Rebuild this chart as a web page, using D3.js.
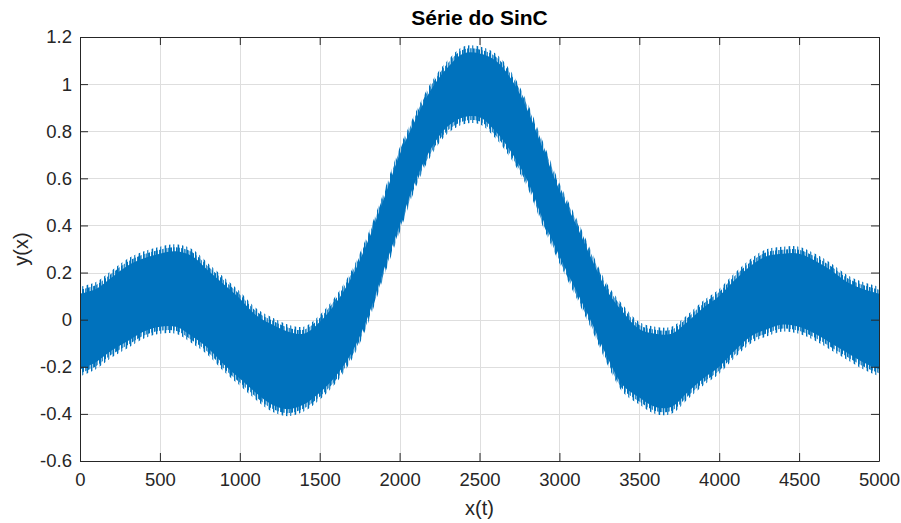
<!DOCTYPE html>
<html>
<head>
<meta charset="utf-8">
<script src="https://cdn.jsdelivr.net/npm/d3@7"></script>
<style>
  html, body { margin: 0; padding: 0; background: #ffffff; }
  svg { display: block; font-family: "Liberation Sans", Arial, Helvetica, sans-serif; }
</style>
</head>
<body>
<svg id="chart" width="901" height="523"></svg>
<script>
// Sample positions along x(t)
const sampleT = [
  0, 100, 200, 300, 400, 500, 600, 700, 800, 900,
  1000, 1100, 1200, 1300, 1400, 1500, 1600, 1700, 1800, 1900,
  2000, 2100, 2200, 2300, 2400, 2500, 2600, 2700, 2800, 2900,
  3000, 3100, 3200, 3300, 3400, 3500, 3600, 3700, 3800, 3900,
  4000, 4100, 4200, 4300, 4400, 4500, 4600, 4700, 4800, 4900, 5000
];

// Upper extent (spike tips) of the noisy SinC signal at each sample position
const upperY = [
  0.14, 0.16, 0.21, 0.26, 0.29, 0.31, 0.32, 0.30, 0.24, 0.18,
  0.12, 0.05, 0.01, -0.02, -0.03, 0.02, 0.10, 0.21, 0.36, 0.54,
  0.73, 0.88, 1.01, 1.10, 1.16, 1.16, 1.13, 1.05, 0.92, 0.75,
  0.58, 0.44, 0.29, 0.15, 0.06, -0.01, -0.03, -0.03, 0.02, 0.08,
  0.13, 0.20, 0.26, 0.30, 0.31, 0.31, 0.28, 0.24, 0.19, 0.16, 0.14
];

// Lower extent (spike tips) of the noisy SinC signal at each sample position
const lowerY = [
  -0.24, -0.21, -0.16, -0.12, -0.08, -0.06, -0.06, -0.10, -0.15, -0.22,
  -0.28, -0.34, -0.39, -0.41, -0.39, -0.34, -0.27, -0.17, -0.02, 0.18,
  0.37, 0.56, 0.70, 0.79, 0.83, 0.83, 0.77, 0.68, 0.56, 0.39,
  0.24, 0.10, -0.04, -0.19, -0.31, -0.36, -0.40, -0.40, -0.34, -0.28,
  -0.23, -0.16, -0.10, -0.07, -0.05, -0.06, -0.09, -0.13, -0.17, -0.21, -0.24
];

// Axis ticks and their labels
const xTicks = [0, 500, 1000, 1500, 2000, 2500, 3000, 3500, 4000, 4500, 5000];
const xTickLabels = ["0", "500", "1000", "1500", "2000", "2500", "3000", "3500", "4000", "4500", "5000"];
const yTicks = [-0.6, -0.4, -0.2, 0, 0.2, 0.4, 0.6, 0.8, 1, 1.2];
const yTickLabels = ["-0.6", "-0.4", "-0.2", "0", "0.2", "0.4", "0.6", "0.8", "1", "1.2"];

const titleText = "Série do SinC";
const xLabelText = "x(t)";
const yLabelText = "y(x)";

(function draw() {
  const rows = sampleT.map((t, i) => ({ t, hi: upperY[i], lo: lowerY[i] }));

  const svg = d3.select("#chart");
  const plotLeft = 80, plotRight = 879, plotTop = 37, plotBottom = 461;
  const textColor = "#262626";
  const lineColor = "#0072BD";

  const x = d3.scaleLinear().domain([0, 5000]).range([plotLeft, plotRight]);
  const y = d3.scaleLinear().domain([-0.6, 1.2]).range([plotBottom, plotTop]);

  // Texture used to render the dense oscillation as thin vertical strokes
  const defs = svg.append("defs");
  function stripePattern(id, width, strokes) {
    const p = defs.append("pattern")
      .attr("id", id)
      .attr("patternUnits", "userSpaceOnUse")
      .attr("width", width).attr("height", 20);
    strokes.forEach(([sx, sw]) => {
      p.append("rect").attr("x", sx).attr("y", 0)
        .attr("width", sw).attr("height", 20).attr("fill", lineColor);
    });
  }
  stripePattern("stripesSparse", 13, [[0, 1.4], [4.2, 1.1], [8.6, 1.6]]);
  stripePattern("stripesDense", 11, [[0, 1.7], [2.6, 1.2], [5.1, 1.9], [8.2, 1.4]]);

  function erodeFilter(id, ry) {
    defs.append("filter")
      .attr("id", id)
      .attr("x", "-5%").attr("y", "-10%").attr("width", "110%").attr("height", "120%")
      .append("feMorphology")
      .attr("operator", "erode")
      .attr("radius", `0.01 ${ry}`);
  }
  erodeFilter("erodeMid", 3);
  erodeFilter("erodeCore", 7);

  // Grid
  const grid = svg.append("g").attr("stroke", "#dedede").attr("stroke-width", 1);
  grid.selectAll("line.gx").data(xTicks).join("line")
    .attr("class", "gx")
    .attr("x1", d => Math.round(x(d)) + 0.5).attr("x2", d => Math.round(x(d)) + 0.5)
    .attr("y1", plotTop).attr("y2", plotBottom);
  grid.selectAll("line.gy").data(yTicks).join("line")
    .attr("class", "gy")
    .attr("y1", d => Math.round(y(d)) + 0.5).attr("y2", d => Math.round(y(d)) + 0.5)
    .attr("x1", plotLeft).attr("x2", plotRight);

  // Signal band
  const band = d3.area()
    .curve(d3.curveCatmullRom.alpha(0.5))
    .x(d => x(d.t))
    .y0(d => y(d.lo))
    .y1(d => y(d.hi));
  const bandPath = band(rows);

  const signal = svg.append("g");
  signal.append("path").attr("d", bandPath).attr("fill", "url(#stripesSparse)");
  signal.append("path").attr("d", bandPath).attr("fill", "url(#stripesDense)")
    .attr("filter", "url(#erodeMid)");
  signal.append("path").attr("d", bandPath).attr("fill", lineColor)
    .attr("filter", "url(#erodeCore)");

  // Axes
  const tickLen = 8;
  function styleAxis(g) {
    g.select(".domain").attr("stroke", textColor).attr("stroke-width", 1);
    g.selectAll(".tick line").attr("stroke", textColor).attr("stroke-width", 1);
    g.selectAll(".tick text").attr("fill", textColor).attr("font-size", 18.5);
  }

  svg.append("g")
    .attr("transform", `translate(0,${plotBottom})`)
    .call(d3.axisBottom(x).tickValues(xTicks).tickFormat((d, i) => xTickLabels[i])
      .tickSizeInner(-tickLen).tickSizeOuter(0).tickPadding(12))
    .call(styleAxis);

  svg.append("g")
    .attr("transform", `translate(${plotLeft},0)`)
    .call(d3.axisLeft(y).tickValues(yTicks).tickFormat((d, i) => yTickLabels[i])
      .tickSizeInner(-tickLen).tickSizeOuter(0).tickPadding(8))
    .call(styleAxis);

  svg.append("g")
    .attr("transform", `translate(0,${plotTop})`)
    .call(d3.axisTop(x).tickValues(xTicks).tickFormat("")
      .tickSizeInner(-tickLen).tickSizeOuter(0))
    .call(styleAxis);

  svg.append("g")
    .attr("transform", `translate(${plotRight},0)`)
    .call(d3.axisRight(y).tickValues(yTicks).tickFormat("")
      .tickSizeInner(-tickLen).tickSizeOuter(0))
    .call(styleAxis);

  // Title and axis labels
  svg.append("text")
    .attr("x", (plotLeft + plotRight) / 2).attr("y", 25)
    .attr("text-anchor", "middle")
    .attr("font-size", 21).attr("font-weight", "bold")
    .attr("fill", "#000000")
    .text(titleText);

  svg.append("text")
    .attr("x", (plotLeft + plotRight) / 2).attr("y", 515)
    .attr("text-anchor", "middle")
    .attr("font-size", 20)
    .attr("fill", textColor)
    .text(xLabelText);

  svg.append("text")
    .attr("transform", `translate(28,${(plotTop + plotBottom) / 2}) rotate(-90)`)
    .attr("text-anchor", "middle")
    .attr("font-size", 20)
    .attr("fill", textColor)
    .text(yLabelText);
})();
</script>
</body>
</html>
